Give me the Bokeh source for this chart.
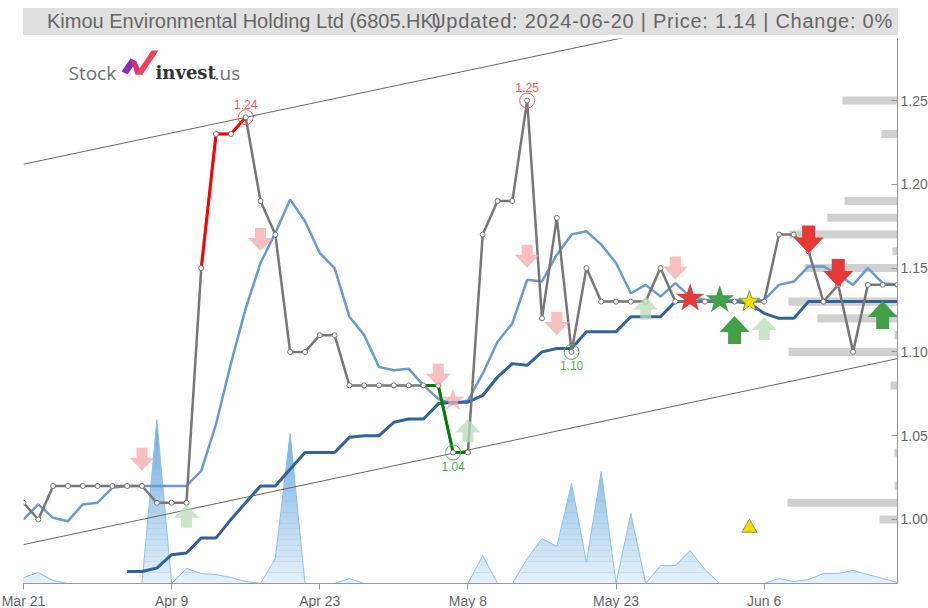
from bokeh.plotting import figure
from bokeh.models import (Range1d, FixedTicker, PrintfTickFormatter, Label,
                          PolyAnnotation, Div)
from bokeh.layouts import column
from bokeh.core.properties import value
from bokeh.embed import file_html
from bokeh.resources import INLINE

# ---------------- data ----------------
tick_idx = [0, 10, 20, 30, 40, 50]
tick_labels = ["Mar 21", "Apr 9", "Apr 23", "May 8", "May 23", "Jun 6"]
y_ticks = [1.00, 1.05, 1.10, 1.15, 1.20, 1.25]

price = [1.01, 1.00, 1.02, 1.02, 1.02, 1.02, 1.02, 1.02, 1.02, 1.01,
         1.01, 1.01, 1.15, 1.23, 1.23, 1.24, 1.19, 1.17, 1.10, 1.10,
         1.11, 1.11, 1.08, 1.08, 1.08, 1.08, 1.08, 1.08, 1.08, 1.04,
         1.04, 1.17, 1.19, 1.19, 1.25, 1.12, 1.18, 1.10, 1.15, 1.13,
         1.13, 1.13, 1.13, 1.15, 1.13, 1.13, 1.13, 1.13, 1.13, 1.13,
         1.13, 1.17, 1.17, 1.16, 1.13, 1.14, 1.10, 1.14, 1.14, 1.14]
idx = list(range(len(price)))

ma_fast = [1.000, 1.009, 1.001, 0.999, 1.009, 1.010, 1.019, 1.020, 1.020, 1.020,
           1.020, 1.020, 1.029, 1.057, 1.093, 1.126, 1.153, 1.171, 1.191, 1.178,
           1.159, 1.150, 1.121, 1.110, 1.091, 1.089, 1.090, 1.080, 1.072, 1.069,
           1.071, 1.087, 1.106, 1.117, 1.143, 1.142, 1.158, 1.170, 1.172, 1.164,
           1.153, 1.135, 1.140, 1.133, 1.141, 1.133, 1.131, 1.131, 1.131, 1.131,
           1.131, 1.140, 1.142, 1.151, 1.151, 1.146, 1.140, 1.150, 1.141, 1.140]

ma_slow_idx = list(range(7, 60))
ma_slow = [0.969, 0.969, 0.971, 0.979, 0.980, 0.989, 0.989, 1.000, 1.010, 1.020,
           1.020, 1.030, 1.040, 1.040, 1.040, 1.049, 1.050, 1.050, 1.058, 1.060,
           1.060, 1.069, 1.070, 1.070, 1.074, 1.085, 1.093, 1.092, 1.100, 1.102,
           1.102, 1.112, 1.112, 1.112, 1.121, 1.121, 1.121, 1.130, 1.130, 1.130,
           1.130, 1.130, 1.129, 1.123, 1.120, 1.120, 1.130, 1.130, 1.130, 1.130,
           1.130, 1.130, 1.130]

volume = [6, 11, 3, 0, 0, 0, 0, 0, 0, 164,
          0, 15, 10, 9, 6, 2, 0, 25, 150, 0,
          0, 0, 5, 0, 0, 0, 0, 0, 0, 0,
          0, 28, 0, 0, 25, 45, 37, 100, 21, 112,
          0, 70, 0, 18, 18, 33, 14, 0, 0, 0,
          0, 5, 2, 4, 10, 10, 13, 9, 5, 1]

vp_levels = [1.25, 1.23, 1.19, 1.18, 1.17, 1.16, 1.15, 1.13, 1.12, 1.11, 1.10, 1.08, 1.04, 1.02, 1.01, 1.00]
vp_volume = [55, 16, 53, 70, 108, 5, 93, 109, 80, 3, 109, 7, 3, 3, 110, 18]

trend_idx = [0, 59]
trend_upper = [1.212, 1.322]
trend_lower = [0.985, 1.096]

rise_idx = [12, 13, 14, 15]
fall_idx = [27, 28, 29, 30]
high_idx = [15, 34]
low_idx = [29, 37]

sell_weak_idx = [8, 16, 28, 34, 36, 44]
sell_weak_val = [1.036, 1.167, 1.086, 1.157, 1.117, 1.150]
buy_weak_idx = [11, 30, 42, 50]
buy_weak_val = [1.002, 1.053, 1.126, 1.114]
sell_strong_idx = [53, 55]
sell_strong_val = [1.167, 1.147]
buy_strong_idx = [48, 58]
buy_strong_val = [1.113, 1.122]

star_red = ([45], [1.132])
star_green = ([47], [1.131])
star_yellow = ([49], [1.130])
star_pink = ([29], [1.071])
triangle_yellow = ([49], [0.995])

title_left = "Kimou Environmental Holding Ltd (6805.HK)"
title_right = "Updated: 2024-06-20 | Price: 1.14 | Change: 0%"

# ---------------- layout constants ----------------
X0, X1 = 0, 59
Y0, Y1 = 0.9618, 1.2870
FW, FH = 874, 545
LEFT = 23
HEAD = 38
FONT = "Liberation Sans"

# header (title bar) as HTML
header_html = (
    f'<div style="position:relative;width:928px;height:{HEAD}px;">'
    f'<div style="position:absolute;left:{LEFT}px;top:8px;width:{FW + 1}px;height:27px;background:#e0e0e0;"></div>'
    f'<div style="position:absolute;left:47px;top:8px;height:27px;line-height:27px;'
    f'font-family:\'{FONT}\';font-size:20px;color:#666666;white-space:nowrap;">{title_left}</div>'
    f'<div style="position:absolute;right:{928 - 893}px;top:8px;height:27px;line-height:27px;'
    f'font-family:\'{FONT}\';font-size:20px;letter-spacing:0.75px;color:#666666;white-space:nowrap;">{title_right}</div>'
    '</div>'
)
header = Div(text=header_html, width=928, height=HEAD, margin=0)

p = figure(frame_width=FW, frame_height=FH,
           x_range=Range1d(X0, X1), y_range=Range1d(Y0, Y1),
           y_axis_location="right", output_backend="svg", toolbar_location=None,
           min_border_left=LEFT, min_border_right=0, min_border_top=0, min_border_bottom=0,
           background_fill_color="white", border_fill_color="white", margin=0)
p.outline_line_color = None
p.grid.visible = False
p.extra_y_ranges = {"vol": Range1d(0, FH)}
p.extra_x_ranges = {"vp": Range1d(FW, 0)}

# axes
xa = p.xaxis[0]
xa.ticker = FixedTicker(ticks=tick_idx)
xa.major_label_overrides = {i: t for i, t in zip(tick_idx, tick_labels)}
xa.axis_line_color = "#999999"
xa.major_tick_line_color = "#999999"
xa.major_tick_in = 0
xa.major_tick_out = 6
xa.minor_tick_line_color = None
xa.major_label_standoff = 3
xa.major_label_text_font = FONT
xa.major_label_text_font_size = "14px"
xa.major_label_text_color = "#666666"

ya = p.yaxis[0]
ya.ticker = FixedTicker(ticks=y_ticks)
ya.formatter = PrintfTickFormatter(format="%.2f")
ya.axis_line_color = "#999999"
ya.major_tick_line_color = "#999999"
ya.major_tick_in = 6
ya.major_tick_out = 0
ya.minor_tick_line_color = None
ya.major_label_standoff = 3
ya.major_label_text_font = FONT
ya.major_label_text_font_size = "14px"
ya.major_label_text_color = "#666666"

# volume area with vertical fade
p.varea(x=idx, y1=0, y2=volume, y_range_name="vol", fill_color="#6aaae0")
vmax = max(volume)
nb = 30
p.quad(left=X0 - 1, right=X1 + 1,
       bottom=[k * vmax / nb for k in range(nb)],
       top=[(k + 1) * vmax / nb for k in range(nb)],
       fill_color="white", fill_alpha=[0.84 * (1 - (k + 0.5) / nb) for k in range(nb)],
       line_color=None, y_range_name="vol")
p.line(idx, volume, y_range_name="vol", line_color="#8cc0ea", line_width=1)

# trend channel
p.line(trend_idx, trend_upper, line_color="#666666", line_width=1)
p.line(trend_idx, trend_lower, line_color="#666666", line_width=1)

# volume-by-price bars
p.hbar(y=vp_levels, left=0, right=vp_volume, height=0.0048, x_range_name="vp",
       fill_color="#c8c8c8", fill_alpha=0.85, line_color=None)

# moving averages
p.line(idx, ma_fast, line_color="#6a9bd0", line_width=2.5)
p.line(ma_slow_idx, ma_slow, line_color="#31639c", line_width=3)

# price
p.line(idx, price, line_color="#777777", line_width=2.5)
p.line(rise_idx, [price[i] for i in rise_idx], line_color="#ff0000", line_width=3)
p.line(fall_idx, [price[i] for i in fall_idx], line_color="#008000", line_width=3)
p.scatter(idx, price, size=5, fill_color="white", line_color="#777777", line_width=1)

# arrows (shape in pixels, placed at data positions)
PXX = (X1 - X0) / FW
PXY = (Y1 - Y0) / FH


def arrows(ix, vals, up, w, h, sw, hh, color, alpha):
    shape = [(-sw / 2, h / 2), (sw / 2, h / 2), (sw / 2, -h / 2 + hh), (w / 2, -h / 2 + hh),
             (0, -h / 2), (-w / 2, -h / 2 + hh), (-sw / 2, -h / 2 + hh)]
    s = -1 if up else 1
    xs = [[i + dx * PXX for dx, dy in shape] for i in ix]
    ys = [[v + s * dy * PXY for dx, dy in shape] for v in vals]
    p.patches(xs, ys, fill_color=color, fill_alpha=alpha, line_color=None)


arrows(sell_weak_idx, sell_weak_val, False, 25, 23, 11, 13, "#f4a9a9", 0.75)
arrows(buy_weak_idx, buy_weak_val, True, 25, 23, 11, 13, "#b9dcb9", 0.75)
arrows(sell_strong_idx, sell_strong_val, False, 30, 28, 13, 16, "#e53935", 1.0)
arrows(buy_strong_idx, buy_strong_val, True, 30, 28, 13, 16, "#43a047", 1.0)

p.scatter(*star_pink, marker="star", size=24, fill_color="#f4a9a9", fill_alpha=0.75, line_color=None)
p.scatter(*star_red, marker="star", size=30, fill_color="#e53935", line_color=None)
p.scatter(*star_green, marker="star", size=30, fill_color="#43a047", line_color=None)
p.scatter(*star_yellow, marker="star", size=22, fill_color="#ffd700", line_color="#6aa84f", line_width=1)
p.scatter(*triangle_yellow, marker="triangle", size=15, fill_color="#ffd700", line_color="#6aa84f", line_width=1)

# high / low markers
p.scatter(high_idx, [price[i] for i in high_idx], size=15, marker="circle",
          fill_color=None, line_color="#f05a5a", line_width=1)
p.scatter(low_idx, [price[i] for i in low_idx], size=15, marker="circle",
          fill_color=None, line_color="#4caf50", line_width=1)
p.text(high_idx, [price[i] for i in high_idx], text=[f"{price[i]:.2f}" for i in high_idx],
       y_offset=-13, text_align="center", text_baseline="middle", text_color="#f05a5a",
       text_font=value(FONT), text_font_size="12px")
p.text(low_idx, [price[i] for i in low_idx], text=[f"{price[i]:.2f}" for i in low_idx],
       y_offset=14, text_align="center", text_baseline="middle", text_color="#4caf50",
       text_font=value(FONT), text_font_size="12px")

# logo (canvas pixels; canvas top is page y = HEAD)
p.add_layout(Label(x=68, y=72 - HEAD, x_units="canvas", y_units="canvas", text="Stock",
                   text_font="Open Sans", text_font_size="19px", text_color="#707070",
                   text_baseline="alphabetic"))
p.add_layout(PolyAnnotation(xs=[121, 130, 136, 127], ys=[y - HEAD for y in (71, 58, 61, 74)],
                            xs_units="canvas", ys_units="canvas",
                            fill_color="#8e2db3", fill_alpha=1, line_color=None))
p.add_layout(PolyAnnotation(xs=[130, 136, 142, 135], ys=[y - HEAD for y in (58, 61, 74, 74)],
                            xs_units="canvas", ys_units="canvas",
                            fill_color="#d4307f", fill_alpha=1, line_color=None))
p.add_layout(PolyAnnotation(xs=[135, 151, 158, 142], ys=[y - HEAD for y in (74, 50, 50, 74)],
                            xs_units="canvas", ys_units="canvas",
                            fill_color="#f0445a", fill_alpha=1, line_color=None))
p.add_layout(Label(x=155, y=72 - HEAD, x_units="canvas", y_units="canvas", text="invest",
                   text_font="DejaVu Serif", text_font_style="bold", text_font_size="18px",
                   text_color="#333333", text_baseline="alphabetic"))
p.add_layout(Label(x=214, y=72 - HEAD, x_units="canvas", y_units="canvas", text=".us",
                   text_font="Open Sans", text_font_size="19px", text_color="#707070",
                   text_baseline="alphabetic"))

layout = column(header, p, spacing=0, margin=0)
open("out.html", "w").write(file_html(layout, INLINE))
